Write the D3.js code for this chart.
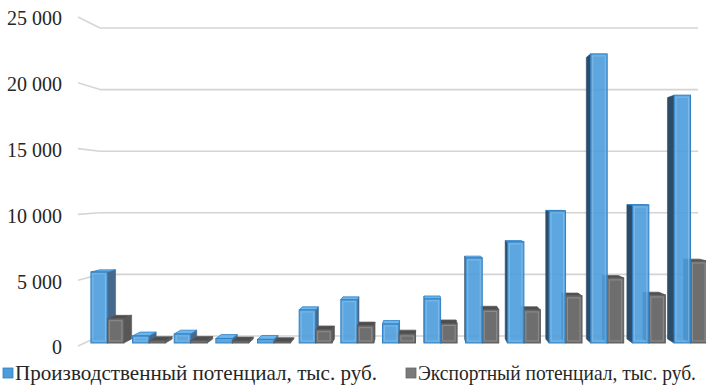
<!DOCTYPE html>
<html>
<head>
<meta charset="utf-8">
<script src="https://cdn.jsdelivr.net/npm/d3@7"></script>
</head>
<body style="margin:0">
<svg id="fig" width="706" height="392"></svg>
<script>
// Production and export potential by region (thousand roubles)
const categories = ["1", "2", "3", "4", "5", "6", "7", "8", "9", "10", "11", "12", "13", "14", "15"];
const production = [5500, 550, 700, 350, 280, 2560, 3350, 1470, 3420, 6590, 7830, 10230, 22400, 10690, 19200];
const exportPotential = [1880, 180, 200, 150, 100, 1030, 1340, 700, 1510, 2600, 2560, 3650, 5040, 3720, 6350];
const seriesNames = ["Производственный потенциал, тыс. руб.", "Экспортный потенциал, тыс. руб."];
const yTicks = [0, 5000, 10000, 15000, 20000, 25000];

const svg = d3.select("#fig");
const TEXT_STYLE = "font-family: 'Liberation Serif' !important;";

// Front plane scales; deeper points are pulled toward the vanishing point.
const x0 = d3.scaleBand().domain(categories).range([80, 717]).paddingInner(0).paddingOuter(0);
const x1 = d3.scaleBand().domain(["prod", "exp"]).range([0, x0.bandwidth()]).paddingInner(0).paddingOuter(0.264);
const y = d3.scaleLinear().domain([0, 25000]).range([346, 17]);

const VP = { x: 422, y: 189 };
const SHRINK = 0.064;          // size reduction from front plane to back wall
const WALL_X = 78;             // left edge of the front plane
const RIGHT_X = 717;
function proj(px, py, s) {
  const k = 1 - SHRINK * s;
  return [VP.x + (px - VP.x) * k, VP.y + (py - VP.y) * k];
}
const line = d3.line();

// Grid: slanted segment on the side wall, straight line on the back wall
const grid = svg.append("g").attr("class", "grid");
yTicks.forEach(v => {
  const a = proj(WALL_X, y(v), 0), b = proj(WALL_X, y(v), 1), c = proj(RIGHT_X, y(v), 1);
  grid.append("path").attr("d", line([a, b])).attr("stroke", "#d6d6d6").attr("stroke-width", 1.6).attr("fill", "none");
  grid.append("path").attr("d", line([b, c])).attr("stroke", "#d4d4d4").attr("stroke-width", 1.6).attr("fill", "none");
});

// Y axis labels at the scale's tick positions
const locale = d3.formatLocale({ decimal: ",", thousands: "\u00a0", grouping: [3], currency: ["", ""] });
const fmt = locale.format(",");
svg.append("g").attr("class", "y-labels")
  .selectAll("text").data(yTicks).join("text")
  .attr("x", 62).attr("y", v => y(v) + 2)
  .attr("dy", "0.32em")
  .attr("text-anchor", "end")
  .attr("font-size", 20)
  .attr("fill", "#262626")
  .attr("style", TEXT_STYLE)
  .text(fmt);

// Bars
const styles = {
  prod: { front: "#4b9cdb", frontStroke: "#2f80c6", top: "#6cb6ec", sideL: "#2c4c69", sideR: "#44698c", opacity: 0.9 },
  exp:  { front: "#6e6e6e", frontStroke: "#5b5b5b", top: "#4e4e4e", sideL: "#4a4a4a", sideR: "#575757", opacity: 1 }
};
const S0 = 0.3, S1 = 0.7;

const bars = [];
categories.forEach((c, i) => {
  bars.push({ key: "prod", cat: c, value: production[i] });
  bars.push({ key: "exp", cat: c, value: exportPotential[i] });
});
bars.forEach(d => {
  d.xa = x0(d.cat) + x1(d.key);
  d.xb = d.xa + x1.bandwidth();
  d.yt = y(d.value);
  d.yb = y(0);
  d.dist = Math.abs((d.xa + d.xb) / 2 - VP.x);
});
bars.sort((a, b) => b.dist - a.dist);

const barG = svg.append("g").attr("class", "bars");
bars.forEach(d => {
  const st = styles[d.key];
  const g = barG.append("g");
  const P = (px, py, s) => proj(px, py, s);
  // side facing the vanishing point
  if (d.xa > VP.x) {
    g.append("path").attr("d", line([P(d.xa, d.yt, S0), P(d.xa, d.yb, S0), P(d.xa, d.yb, S1), P(d.xa, d.yt, S1)]) + "Z")
      .attr("fill", st.sideL).attr("stroke", st.sideL).attr("stroke-width", 0.6);
  }
  if (d.xb < VP.x) {
    g.append("path").attr("d", line([P(d.xb, d.yt, S0), P(d.xb, d.yb, S0), P(d.xb, d.yb, S1), P(d.xb, d.yt, S1)]) + "Z")
      .attr("fill", st.sideR).attr("stroke", st.sideR).attr("stroke-width", 0.6);
  }
  if (d.yt > VP.y) {
    g.append("path").attr("d", line([P(d.xa, d.yt, S0), P(d.xb, d.yt, S0), P(d.xb, d.yt, S1), P(d.xa, d.yt, S1)]) + "Z")
      .attr("fill", st.top).attr("stroke", st.frontStroke).attr("stroke-width", 0.8);
  }
  const f0 = P(d.xa, d.yt, S0), f1 = P(d.xb, d.yb, S0);
  g.append("rect")
    .attr("x", f0[0]).attr("y", f0[1])
    .attr("width", f1[0] - f0[0]).attr("height", f1[1] - f0[1])
    .attr("fill", st.front).attr("fill-opacity", st.opacity)
    .attr("stroke", st.frontStroke).attr("stroke-width", 1);
  // bevel highlight
  if (f1[1] - f0[1] > 6) {
    g.append("rect")
      .attr("x", f0[0] + 2).attr("y", f0[1] + 2)
      .attr("width", Math.max(0, f1[0] - f0[0] - 4)).attr("height", Math.max(0, f1[1] - f0[1] - 4))
      .attr("fill", "none").attr("stroke", "rgba(255,255,255,0.22)").attr("stroke-width", 1);
  }
});

// Legend
const legendX = [3, 406];
const legendWidth = [362, 278];
const legendColors = ["#4b9cdb", "#7a7a7a"];
const legendStroke = ["#2f80c6", "#666"];
const legend = svg.append("g").attr("class", "legend")
  .selectAll("g").data(seriesNames).join("g")
  .attr("transform", (d, i) => `translate(${legendX[i]},0)`);
legend.append("rect").attr("x", 0).attr("y", 368).attr("width", 10).attr("height", 10)
  .attr("fill", (d, i) => legendColors[i]).attr("stroke", (d, i) => legendStroke[i]).attr("stroke-width", 0.8);
legend.append("text").attr("x", 12).attr("y", 380)
  .attr("font-size", 21).attr("fill", "#262626")
  .attr("textLength", (d, i) => legendWidth[i]).attr("lengthAdjust", "spacingAndGlyphs")
  .attr("style", TEXT_STYLE).text(d => d);
</script>
</body>
</html>
